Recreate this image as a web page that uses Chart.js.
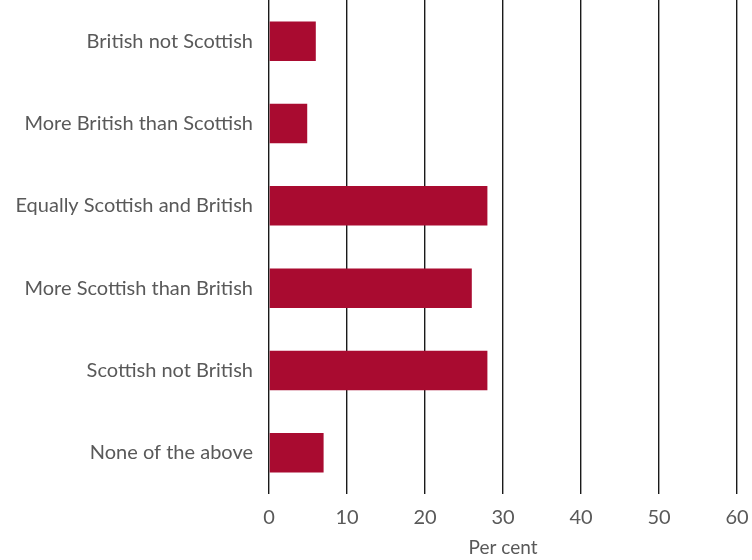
<!DOCTYPE html>
<html>
<head>
<meta charset="utf-8">
<script src="https://cdn.jsdelivr.net/npm/chart.js@4/dist/chart.umd.min.js"></script>
<style>
  html, body { margin: 0; padding: 0; background: #fff; }
  canvas { display: block; }
</style>
</head>
<body>
<canvas id="identityChart" width="752" height="560"></canvas>
<script>
const categories = [
    'British not Scottish',
    'More British than Scottish',
    'Equally Scottish and British',
    'More Scottish than British',
    'Scottish not British',
    'None of the above'
];
const percentages = [6, 4.9, 28, 26, 28, 7];
const xTicks = [0, 10, 20, 30, 40, 50, 60];

const ctx = document.getElementById('identityChart').getContext('2d');
const identityChart = new Chart(ctx, {
    type: 'bar',
    data: {
        labels: categories,
        datasets: [{
            label: 'Per cent',
            data: percentages,
            backgroundColor: '#a90b30',
            borderWidth: 0,
            categoryPercentage: 1,
            barPercentage: 0.48
        }]
    },
    options: {
        indexAxis: 'y',
        responsive: false,
        animation: false,
        layout: { padding: { top: 0, right: 15, bottom: 0, left: 0 } },
        plugins: {
            legend: { display: false },
            tooltip: { enabled: false }
        },
        scales: {
            x: {
                min: xTicks[0],
                max: xTicks[xTicks.length - 1],
                afterBuildTicks: axis => { axis.ticks = xTicks.map(v => ({ value: v })); },
                afterFit: axis => {
                    axis.height = 66;
                    axis.paddingLeft = 0;
                    axis.paddingRight = 0;
                },
                grid: { color: '#1a1a1a', lineWidth: 1.4, drawTicks: false },
                border: { display: false },
                ticks: {
                    color: '#595959',
                    padding: 12,
                    maxRotation: 0,
                    autoSkip: false,
                    font: { family: 'Lato', size: 20 }
                },
                title: {
                    display: true,
                    text: 'Per cent',
                    color: '#595959',
                    padding: { top: 0, bottom: 1 },
                    font: { family: 'Lato', size: 19 }
                }
            },
            y: {
                afterFit: axis => {
                    axis.width = 269;
                    axis.paddingTop = 0;
                    axis.paddingBottom = 0;
                },
                grid: { display: false, drawTicks: false },
                border: { display: false },
                ticks: {
                    color: '#595959',
                    padding: 16,
                    autoSkip: false,
                    font: { family: 'Lato', size: 20 }
                }
            }
        }
    }
});
</script>
</body>
</html>
